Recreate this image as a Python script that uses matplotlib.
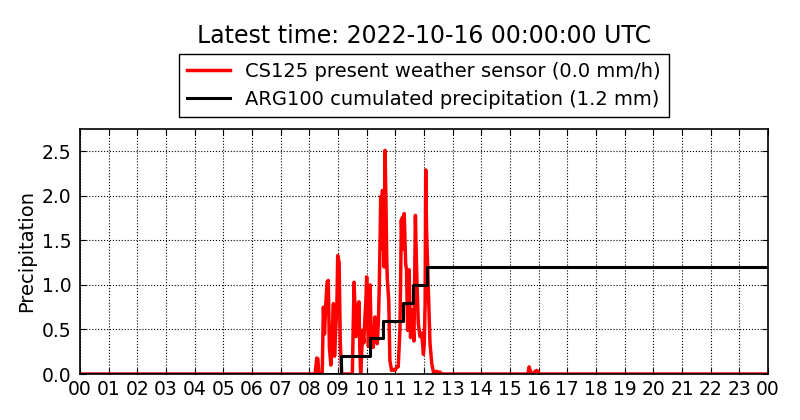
import matplotlib
matplotlib.use("Agg")
import matplotlib.pyplot as plt

# CS125 present weather sensor, hours since midnight and mm/h
cs125_hours = [0.0, 8.20, 8.26, 8.30, 8.33, 8.45, 8.49, 8.53, 8.57, 8.62, 8.66, 8.70,
               8.75, 8.78, 8.81, 8.84, 8.88, 8.92, 8.96, 8.99, 9.04, 9.08, 9.13,
               9.50, 9.56, 9.60, 9.63, 9.67, 9.70, 9.73, 9.76, 9.79, 9.82, 9.86,
               9.90, 9.94, 9.97, 10.00, 10.03, 10.06, 10.09, 10.12, 10.15, 10.17,
               10.20, 10.23, 10.26, 10.29, 10.33, 10.37, 10.41, 10.44, 10.47, 10.49,
               10.52, 10.55, 10.58, 10.61, 10.64, 10.67, 10.70, 10.72, 10.77, 10.81,
               10.87, 10.93, 10.99, 11.05, 11.10, 11.16, 11.19, 11.21, 11.23, 11.25,
               11.28, 11.31, 11.36, 11.39, 11.43, 11.48, 11.53, 11.59, 11.62, 11.65,
               11.70, 11.74, 11.80, 11.86, 11.92, 11.98, 12.01, 12.04, 12.06, 12.09,
               12.14, 12.21, 12.27, 12.33, 12.44, 12.50, 12.56, 12.62, 15.62, 15.67,
               15.72, 15.78, 15.92, 15.97, 16.02, 24.0]
cs125_values = [0.0, 0.0, 0.18, 0.17, 0.0, 0.0, 0.75, 0.45, 0.76, 1.03, 1.05, 0.30,
                0.10, 0.25, 0.55, 0.79, 0.20, 0.50, 0.75, 1.33, 1.25, 0.35, 0.0,
                0.0, 1.03, 0.70, 0.42, 0.78, 0.50, 0.81, 0.30, 0.0, 0.20, 0.49,
                0.35, 0.64, 0.80, 1.09, 0.70, 0.31, 0.60, 1.00, 0.55, 0.34,
                0.30, 0.30, 0.45, 0.64, 0.40, 0.34, 0.60, 0.98, 1.54, 1.99,
                1.40, 2.06, 1.61, 1.20, 2.51, 1.99, 1.30, 1.06, 0.83, 0.15,
                0.04, 0.05, 0.04, 0.08, 0.08, 0.49, 1.20, 1.73, 1.50, 1.76,
                1.40, 1.80, 1.24, 1.17, 0.49, 1.17, 0.41, 0.72, 0.50, 0.37,
                1.78, 1.20, 0.57, 0.42, 0.46, 0.22, 0.34, 0.80, 2.29, 1.61,
                1.06, 0.34, 0.12, 0.02, 0.03, 0.02, 0.02, 0.0, 0.0, 0.08,
                0.02, 0.0, 0.04, 0.03, 0.0, 0.0]

# ARG100 cumulated precipitation (mm), value from each hour onwards
arg100_hours = [0.0, 9.09, 10.12, 10.58, 11.25, 11.60, 12.09, 24.0]
arg100_values = [0.0, 0.2, 0.4, 0.6, 0.8, 1.0, 1.2, 1.2]

hour_ticks = list(range(25))
hour_labels = ["%02d" % (h % 24) for h in hour_ticks]

plt.rcParams["font.family"] = "DejaVu Sans"
plt.rcParams["xtick.direction"] = "in"
plt.rcParams["ytick.direction"] = "in"

fig = plt.figure(figsize=(8, 4.2), dpi=100)
ax = fig.add_axes([0.1, 0.1095, 0.86, 0.5835])

l1, = ax.plot(cs125_hours, cs125_values, color="red", lw=2.5,
              label="CS125 present weather sensor (0.0 mm/h)")
l2, = ax.step(arg100_hours, arg100_values, where="post", color="black", lw=2.2,
              label="ARG100 cumulated precipitation (1.2 mm)")

ax.set_xlim(0, 24)
ax.set_ylim(0, 2.75)
ax.set_xticks(hour_ticks)
ax.set_xticklabels(hour_labels)
ax.set_yticks([0.0, 0.5, 1.0, 1.5, 2.0, 2.5])
ax.tick_params(labelsize=13.5, top=True, right=True, length=4, width=0.8)
ax.tick_params(axis="x", pad=4)
ax.tick_params(axis="y", pad=6)
ax.set_ylabel("Precipitation", fontsize=14)
ax.grid(True, color="black", linestyle=":", linewidth=0.8)
for s in ax.spines.values():
    s.set_linewidth(1.2)

fig.legend(handles=[l1, l2], loc="lower center", bbox_to_anchor=(0.53, 0.7214),
           borderaxespad=0, fontsize=14, fancybox=False, edgecolor="black",
           framealpha=1, handlelength=2.2)
fig.text(0.53, 0.915, "Latest time: 2022-10-16 00:00:00 UTC", ha="center",
         va="center", fontsize=17)

fig.savefig("out.png", dpi=100)
plt.close(fig)
